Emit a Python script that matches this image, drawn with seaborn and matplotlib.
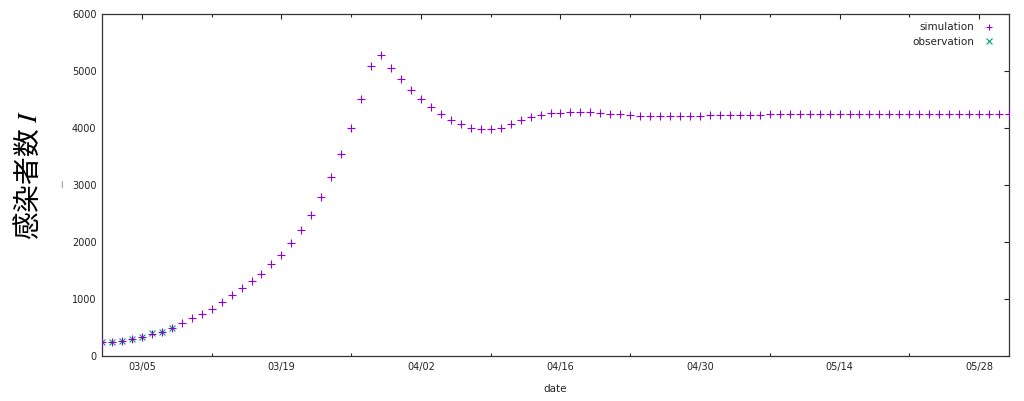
import matplotlib
matplotlib.use("Agg")
import matplotlib.pyplot as plt
import matplotlib.dates as mdates
from matplotlib.lines import Line2D
import seaborn as sns
import pandas as pd

# ---- data ----
start_date = "2020-03-01"
sim_values = [
    240, 245, 268, 304, 339, 392, 421, 491, 573, 661,
    743, 830, 942, 1064, 1187, 1316, 1444, 1608, 1778, 1982,
    2205, 2474, 2790, 3140, 3544, 3994, 4503, 5082, 5275, 5053,
    4854, 4672, 4509, 4368, 4240, 4146, 4068, 4008, 3982, 3974,
    4000, 4062, 4135, 4187, 4228, 4257, 4269, 4275, 4276, 4274,
    4263, 4251, 4240, 4228, 4216, 4207, 4204, 4204, 4206, 4212,
    4218, 4222, 4226, 4228, 4230, 4234, 4236, 4238, 4238, 4239,
    4240, 4240, 4241, 4241, 4242, 4242, 4243, 4244, 4245, 4246,
    4247, 4248, 4248, 4249, 4250, 4250, 4251, 4251, 4252, 4252,
    4253, 4253,
]
obs_values = [241, 239, 265, 300, 337, 400, 427, 483]
major_tick_dates = ["2020-03-05", "2020-03-19", "2020-04-02", "2020-04-16",
                    "2020-04-30", "2020-05-14", "2020-05-28"]
minor_tick_dates = ["2020-03-12", "2020-03-26", "2020-04-09", "2020-04-23",
                    "2020-05-07", "2020-05-21"]
y_ticks = [0, 1000, 2000, 3000, 4000, 5000, 6000]
x_start, x_end = "2020-03-01", "2020-05-31"
series_names = ["simulation", "observation"]
sim_color = "#9400D3"
obs_color = "#009E73"

sim_df = pd.DataFrame({"date": pd.date_range(start_date, periods=len(sim_values), freq="D"),
                       "I": sim_values})
obs_df = pd.DataFrame({"date": pd.date_range(start_date, periods=len(obs_values), freq="D"),
                       "I": obs_values})

sns.set_theme(style="white")
plt.rcParams["font.family"] = ["DejaVu Sans", "Noto Sans CJK JP"]
plt.rcParams["mathtext.fontset"] = "stix"

fig = plt.figure(figsize=(10.24, 4.01), dpi=100)
ax = fig.add_axes([102 / 1024, 45 / 401, 907 / 1024, 342 / 401])

sns.scatterplot(data=sim_df, x="date", y="I", marker="+", color=sim_color,
                s=28, linewidth=0.8, ax=ax, legend=False, zorder=3)
sns.scatterplot(data=obs_df, x="date", y="I", marker="x", color=obs_color,
                s=18, linewidth=0.8, ax=ax, legend=False, zorder=2)

ax.set_xlim(pd.Timestamp(x_start), pd.Timestamp(x_end))
ax.set_ylim(0, 6000)
ax.set_yticks(y_ticks)
ax.set_xticks(pd.to_datetime(major_tick_dates))
ax.set_xticks(pd.to_datetime(minor_tick_dates), minor=True)
ax.xaxis.set_major_formatter(mdates.DateFormatter("%m/%d"))
ax.tick_params(axis="both", which="major", direction="in", length=3.8, width=0.8,
               top=True, right=True, labelsize=7, colors="#222222", pad=4)
ax.tick_params(axis="x", which="minor", direction="in", length=2.0, width=0.8,
               top=True, bottom=True)
for sp in ax.spines.values():
    sp.set_color("#333333")
    sp.set_linewidth(0.9)

ax.set_xlabel("date", fontsize=7.5, color="#222222", labelpad=9)
ax.set_ylabel("")

fig.text(29 / 1024, 1 - 175 / 401, "感染者数 $I$", rotation=90, ha="center", va="center",
         fontsize=20, family=["Noto Sans CJK JP", "DejaVu Sans"], color="black")
fig.text(61 / 1024, 1 - 185 / 401, "|", ha="center", va="center", fontsize=5,
         color="#555555")

handles = [Line2D([], [], marker="+", color=sim_color, linestyle="", markersize=5, markeredgewidth=0.8),
           Line2D([], [], marker="x", color=obs_color, linestyle="", markersize=4, markeredgewidth=0.8)]
leg = ax.legend(handles, series_names, loc="upper right", frameon=False, markerfirst=False,
                fontsize=7.5, handlelength=1.0, handletextpad=0.9, labelspacing=0.45,
                borderaxespad=0.4, bbox_to_anchor=(0.993, 1.0))
for t in leg.get_texts():
    t.set_color("#222222")

fig.savefig("out.png", dpi=100)
